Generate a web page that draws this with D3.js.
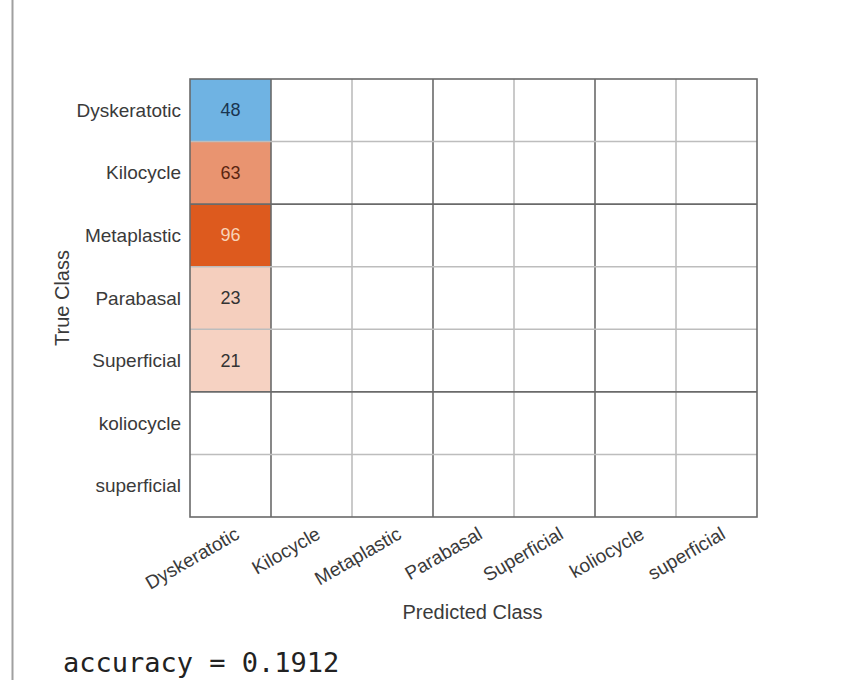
<!DOCTYPE html>
<html>
<head>
<meta charset="utf-8">
<script src="https://cdn.jsdelivr.net/npm/d3@7"></script>
<style>
  body { margin: 0; background: #fff; }
  svg { display: block; }
  text { font-family: "Liberation Sans", Arial, sans-serif; }
</style>
</head>
<body>
<svg id="chart" width="858" height="680"></svg>
<script>
const trueClasses = ['Dyskeratotic', 'Kilocycle', 'Metaplastic', 'Parabasal', 'Superficial', 'koliocycle', 'superficial'];
const predClasses = ['Dyskeratotic', 'Kilocycle', 'Metaplastic', 'Parabasal', 'Superficial', 'koliocycle', 'superficial'];
// non-zero counts: [true, predicted, count]
const counts = [
  ['Dyskeratotic', 'Dyskeratotic', 48],
  ['Kilocycle', 'Dyskeratotic', 63],
  ['Metaplastic', 'Dyskeratotic', 96],
  ['Parabasal', 'Dyskeratotic', 23],
  ['Superficial', 'Dyskeratotic', 21]
];
const accuracy = 0.1912;

const svg = d3.select('#chart');
const gLeft = 190, gRight = 757, gTop = 79, gBottom = 517;

const x = d3.scaleBand().domain(predClasses).range([gLeft, gRight]);
const y = d3.scaleBand().domain(trueClasses).range([gTop, gBottom]);

// MATLAB-ish: diagonal is blue, off-diagonal orange, shaded by count
const offColor = d3.scaleLinear().domain([0, 20, 63, 96]).range(['#ffffff', '#f6d3c4', '#e99470', '#dd5a1e']);
const fillFor = d => d[0] === d[1] ? '#6fb3e3' : offColor(d[2]);
const textFor = d => d[0] === d[1] ? '#1a3550' : (d[2] > 80 ? '#f8d3b8' : (d[2] > 50 ? '#5a2510' : '#333'));

// left window edge
svg.append('line').attr('x1', 12.5).attr('x2', 12.5).attr('y1', 0).attr('y2', 680)
  .attr('stroke', '#a0a0a0').attr('stroke-width', 2);

svg.append('g').selectAll('rect').data(counts).enter().append('rect')
  .attr('x', d => x(d[1]))
  .attr('y', d => y(d[0]))
  .attr('width', x.bandwidth())
  .attr('height', y.bandwidth())
  .attr('fill', fillFor);

// grid
const darkV = new Set([1, 3, 5]);
const darkH = new Set([2, 5]);
const grid = svg.append('g');
d3.range(1, predClasses.length).forEach(i => {
  const xx = gLeft + i * x.bandwidth();
  grid.append('line').attr('x1', xx).attr('x2', xx).attr('y1', gTop).attr('y2', gBottom)
    .attr('stroke', darkV.has(i) ? '#6a6a6a' : '#bdbdbd').attr('stroke-width', 1.6);
});
d3.range(1, trueClasses.length).forEach(i => {
  const yy = gTop + i * y.bandwidth();
  grid.append('line').attr('x1', gLeft).attr('x2', gRight).attr('y1', yy).attr('y2', yy)
    .attr('stroke', darkH.has(i) ? '#6a6a6a' : '#bdbdbd').attr('stroke-width', 1.6);
});
grid.append('rect').attr('x', gLeft).attr('y', gTop)
  .attr('width', gRight - gLeft).attr('height', gBottom - gTop)
  .attr('fill', 'none').attr('stroke', '#6a6a6a').attr('stroke-width', 1.6);

svg.append('g').selectAll('text').data(counts).enter().append('text')
  .attr('x', d => x(d[1]) + x.bandwidth() / 2)
  .attr('y', d => y(d[0]) + y.bandwidth() / 2)
  .attr('text-anchor', 'middle').attr('dominant-baseline', 'central')
  .attr('font-size', 18).attr('fill', textFor)
  .text(d => d[2]);

// row labels
svg.append('g').selectAll('text').data(trueClasses).enter().append('text')
  .attr('x', gLeft - 9)
  .attr('y', d => y(d) + y.bandwidth() / 2)
  .attr('text-anchor', 'end').attr('dominant-baseline', 'central')
  .attr('font-size', 19).attr('fill', '#3a3a3a')
  .text(d => d);

// column labels, rotated
svg.append('g').selectAll('text').data(predClasses).enter().append('text')
  .attr('transform', d => `translate(${x(d) + x.bandwidth() / 2 + 7},${gBottom + 15}) rotate(-30)`)
  .attr('text-anchor', 'end').attr('dominant-baseline', 'central')
  .attr('font-size', 19).attr('fill', '#3a3a3a')
  .text(d => d);

svg.append('text')
  .attr('x', (gLeft + gRight) / 2 - 1).attr('y', 619)
  .attr('text-anchor', 'middle').attr('font-size', 20).attr('fill', '#3a3a3a')
  .text('Predicted Class');

svg.append('text')
  .attr('transform', `translate(69,${(gTop + gBottom) / 2}) rotate(-90)`)
  .attr('text-anchor', 'middle').attr('font-size', 20).attr('fill', '#3a3a3a')
  .text('True Class');

svg.append('text')
  .attr('x', 63).attr('y', 672)
  .style('font-family', '"DejaVu Sans Mono", monospace')
  .attr('font-size', 27).attr('fill', '#222')
  .text('accuracy = ' + accuracy.toFixed(4));
</script>
</body>
</html>
